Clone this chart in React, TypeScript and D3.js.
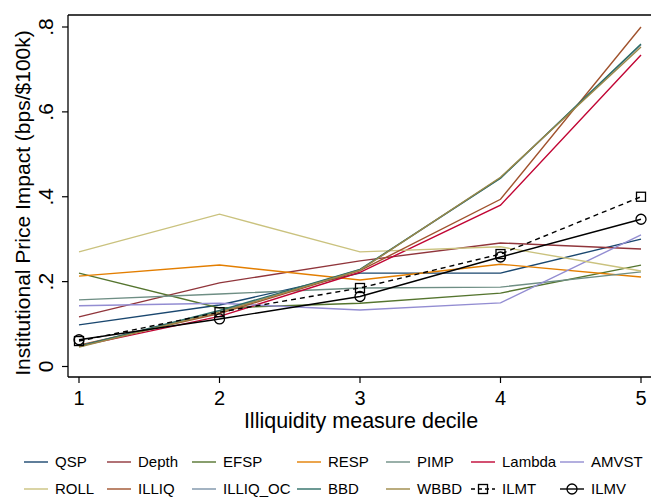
import React from "react";
import * as d3 from "d3";

// deciles on the x axis
const deciles = [1, 2, 3, 4, 5];

// price impact per measure (bps/$100k)
const QSP = [0.098, 0.145, 0.22, 0.22, 0.3];
const Depth = [0.117, 0.197, 0.249, 0.291, 0.277];
const EFSP = [0.22, 0.138, 0.149, 0.173, 0.239];
const RESP = [0.213, 0.239, 0.204, 0.241, 0.211];
const PIMP = [0.157, 0.171, 0.185, 0.187, 0.223];
const Lambda = [0.048, 0.118, 0.222, 0.38, 0.734];
const AMVST = [0.143, 0.149, 0.133, 0.15, 0.31];
const ROLL = [0.27, 0.359, 0.27, 0.282, 0.225];
const ILLIQ = [0.05, 0.125, 0.226, 0.394, 0.8];
const ILLIQ_OC = [0.048, 0.13, 0.228, 0.444, 0.758];
const BBD = [0.048, 0.132, 0.229, 0.444, 0.76];
const WBBD = [0.046, 0.128, 0.227, 0.446, 0.753];
const ILMT = [0.06, 0.128, 0.185, 0.265, 0.4];
const ILMV = [0.063, 0.112, 0.165, 0.258, 0.347];

const yTicks = [0, 0.2, 0.4, 0.6, 0.8];
const yTickLabels = ["0", ".2", ".4", ".6", ".8"];

type Series = { name: string; values: number[]; color: string; dash?: string; marker?: "square" | "circle" };

// stata s2color palette
const series: Series[] = [
  { name: "QSP", values: QSP, color: "#1a476f" },
  { name: "Depth", values: Depth, color: "#90353b" },
  { name: "EFSP", values: EFSP, color: "#55752f" },
  { name: "RESP", values: RESP, color: "#e37e00" },
  { name: "PIMP", values: PIMP, color: "#6e8e84" },
  { name: "Lambda", values: Lambda, color: "#c10534" },
  { name: "AMVST", values: AMVST, color: "#938dd2" },
  { name: "ROLL", values: ROLL, color: "#cac27e" },
  { name: "ILLIQ", values: ILLIQ, color: "#a0522d" },
  { name: "ILLIQ_OC", values: ILLIQ_OC, color: "#7b92a8" },
  { name: "BBD", values: BBD, color: "#2d6d66" },
  { name: "WBBD", values: WBBD, color: "#9c8847" },
  { name: "ILMT", values: ILMT, color: "#000000", dash: "5,4", marker: "square" },
  { name: "ILMV", values: ILMV, color: "#000000", marker: "circle" },
];

const font = "'Liberation Sans', Arial, Helvetica, sans-serif";

const App = () => {
  const W = 651;
  const H = 497;
  const left = 68;
  const top = 15;
  const bottom = 377;

  const x = d3.scaleLinear().domain([1, 5]).range([79, 641]);
  const y = d3.scaleLinear().domain([0, 0.8]).range([366.5, 27]);

  const line = d3
    .line<number>()
    .x((_, i) => x(deciles[i]))
    .y((d) => y(d));

  const legendCols = [24, 107, 192, 297, 386, 471, 560];
  const legendRows = [462, 489];

  const marker = (s: Series, cx: number, cy: number, key: string) =>
    s.marker === "square" ? (
      <rect key={key} x={cx - 4.5} y={cy - 4.5} width={9} height={9} fill="none" stroke="#000" strokeWidth={1.3} />
    ) : s.marker === "circle" ? (
      <circle key={key} cx={cx} cy={cy} r={5} fill="none" stroke="#000" strokeWidth={1.3} />
    ) : null;

  return (
    <svg width={W} height={H} style={{ position: "absolute", left: 0, top: 0, background: "#fff" }} fontFamily={font}>
      {/* frame */}
      <line x1={left} x2={W} y1={top} y2={top} stroke="#000" strokeWidth={1.3} />
      <line x1={left} x2={W} y1={bottom} y2={bottom} stroke="#000" strokeWidth={1.3} />
      <line x1={left} x2={left} y1={top} y2={bottom} stroke="#000" strokeWidth={1.3} />

      {/* y axis */}
      {yTicks.map((t, i) => (
        <g key={"yt" + i}>
          <line x1={left - 6} x2={left} y1={y(t)} y2={y(t)} stroke="#000" strokeWidth={1.2} />
          <text transform={`translate(53,${y(t)}) rotate(-90)`} textAnchor="middle" fontSize={21}>
            {yTickLabels[i]}
          </text>
        </g>
      ))}
      <text transform={`translate(30,203) rotate(-90)`} textAnchor="middle" fontSize={21}>
        Institutional Price Impact (bps/$100k)
      </text>

      {/* x axis */}
      {deciles.map((d) => (
        <g key={"xt" + d}>
          <line x1={x(d)} x2={x(d)} y1={bottom} y2={bottom + 6} stroke="#000" strokeWidth={1.2} />
          <text x={x(d)} y={405} textAnchor="middle" fontSize={20}>
            {d}
          </text>
        </g>
      ))}
      <text x={361} y={428} textAnchor="middle" fontSize={21.5}>
        Illiquidity measure decile
      </text>

      {/* lines */}
      {series.map((s) => (
        <g key={s.name}>
          <path d={line(s.values) || ""} fill="none" stroke={s.color} strokeWidth={1.4} strokeDasharray={s.dash} />
          {s.marker && s.values.map((v, i) => marker(s, x(deciles[i]), y(v), s.name + i))}
        </g>
      ))}

      {/* legend */}
      {series.map((s, i) => {
        const lx = legendCols[i % 7];
        const ly = legendRows[Math.floor(i / 7)];
        return (
          <g key={"lg" + s.name}>
            <line x1={lx} x2={lx + 24} y1={ly} y2={ly} stroke={s.color} strokeWidth={1.4} strokeDasharray={s.dash ? "4,3" : undefined} />
            {marker(s, lx + 12, ly, "lm" + s.name)}
            <text x={lx + 31} y={ly + 5} fontSize={15}>
              {s.name}
            </text>
          </g>
        );
      })}
    </svg>
  );
};

export default App;
